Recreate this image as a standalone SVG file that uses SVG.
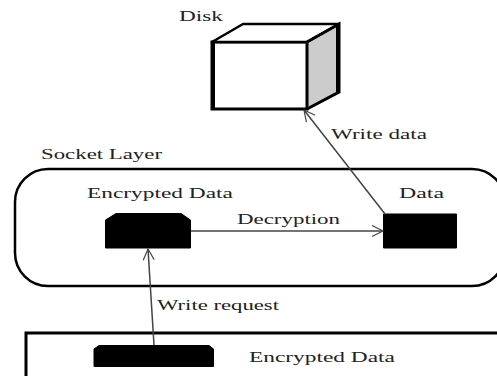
<svg xmlns="http://www.w3.org/2000/svg" width="497" height="376" viewBox="0 0 497 376">
<style>
text{font-family:"Liberation Serif","Times New Roman",serif;font-size:14px;fill:#222}
.thick{fill:none;stroke:#000;stroke-width:3}
.chip{fill:#000;stroke:#000;stroke-width:1;stroke-linejoin:round}
.conn{fill:none;stroke:#444;stroke-width:1.5;marker-end:url(#arrow)}
</style>
<defs>
<marker id="arrow" markerUnits="userSpaceOnUse" markerWidth="14" markerHeight="14" refX="12" refY="7" orient="auto">
<path d="M1 1.500L12 7L1 12.500" fill="none" stroke="#444" stroke-width="1.2"/>
</marker>
</defs>
<rect width="497" height="376" fill="#fff"/>
<g id="disk">
<path d="M307 42L339 24V92L307 109Z" fill="#ccc"/>
<path d="M212 42H307V109H212Z" fill="#fff" stroke="#000" stroke-width="3"/>
<path d="M212 42L243 24H339L307 42Z" fill="#fff" stroke="#000" stroke-width="2.500" stroke-linejoin="round"/>
<path d="M213.500 42V109" class="thick"/>
<path d="M307 42L339 24V92L307 109" class="thick"/>
<path d="M337.500 24V92" class="thick"/>
<text x="179" y="21" textLength="44" lengthAdjust="spacingAndGlyphs">Disk</text>
</g>
<g id="socket-layer">
<rect x="15" y="169" width="490" height="117" rx="33" ry="33" fill="#fff" stroke="#000" stroke-width="2.500"/>
<text x="41" y="159" textLength="121" lengthAdjust="spacingAndGlyphs">Socket Layer</text>
</g>
<g id="encrypted-data">
<path class="chip" d="M105.500 220L116 213.500H181L190.500 220V248H105.500Z"/>
<text x="87" y="198" textLength="146" lengthAdjust="spacingAndGlyphs">Encrypted Data</text>
</g>
<g id="data">
<rect class="chip" x="383.500" y="214" width="73" height="34"/>
<text x="399" y="198" textLength="45" lengthAdjust="spacingAndGlyphs">Data</text>
</g>
<g id="client">
<path d="M26 376V333H497" class="thick"/>
<path class="chip" d="M94 349L99 345.500H209L213.500 349V366.500H94Z"/>
<text x="249" y="362" textLength="146" lengthAdjust="spacingAndGlyphs">Encrypted Data</text>
</g>
<g id="connectors">
<path class="conn" d="M154 345L148 249"/>
<path class="conn" d="M191 231H383"/>
<path class="conn" d="M385 214L304 110"/>
<text x="157" y="310" textLength="122" lengthAdjust="spacingAndGlyphs">Write request</text>
<text x="237" y="224" textLength="103" lengthAdjust="spacingAndGlyphs">Decryption</text>
<text x="331" y="139" textLength="96" lengthAdjust="spacingAndGlyphs">Write data</text>
</g>
</svg>
